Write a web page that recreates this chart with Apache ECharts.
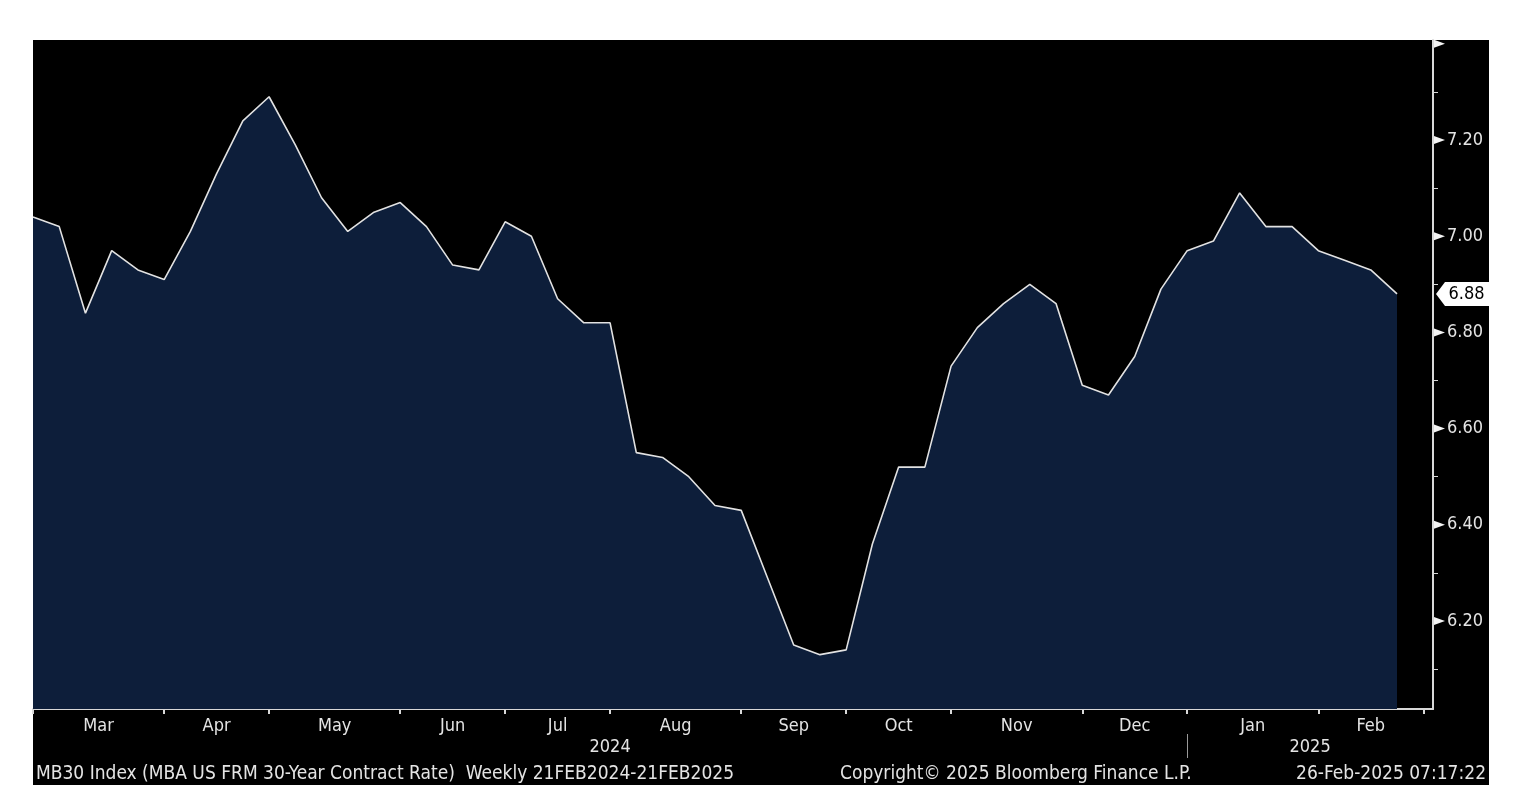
<!DOCTYPE html>
<html>
<head>
<meta charset="utf-8">
<script src="https://cdn.jsdelivr.net/npm/echarts@6/dist/echarts.min.js"></script>
<style>
html,body{margin:0;padding:0;background:#fff;}
#chart{width:1518px;height:812px;}
</style>
</head>
<body>
<div id="chart"></div>
<script>
// ---- data (weekly, Fridays) ----
const dates = [
  '2024-02-23','2024-03-01','2024-03-08','2024-03-15','2024-03-22','2024-03-29',
  '2024-04-05','2024-04-12','2024-04-19','2024-04-26',
  '2024-05-03','2024-05-10','2024-05-17','2024-05-24','2024-05-31',
  '2024-06-07','2024-06-14','2024-06-21','2024-06-28',
  '2024-07-05','2024-07-12','2024-07-19','2024-07-26',
  '2024-08-02','2024-08-09','2024-08-16','2024-08-23','2024-08-30',
  '2024-09-06','2024-09-13','2024-09-20','2024-09-27',
  '2024-10-04','2024-10-11','2024-10-18','2024-10-25',
  '2024-11-01','2024-11-08','2024-11-15','2024-11-22','2024-11-29',
  '2024-12-06','2024-12-13','2024-12-20','2024-12-27',
  '2025-01-03','2025-01-10','2025-01-17','2025-01-24','2025-01-31',
  '2025-02-07','2025-02-14','2025-02-21'
];
const rates = [
  7.04, 7.02, 6.84, 6.97, 6.93, 6.91,
  7.01, 7.13, 7.24, 7.29,
  7.19, 7.08, 7.01, 7.05, 7.07,
  7.02, 6.94, 6.93, 7.03,
  7.00, 6.87, 6.82, 6.82,
  6.55, 6.54, 6.50, 6.44, 6.43,
  6.29, 6.15, 6.13, 6.14,
  6.36, 6.52, 6.52, 6.73,
  6.81, 6.86, 6.90, 6.86, 6.69,
  6.67, 6.75, 6.89, 6.97,
  6.99, 7.09, 7.02, 7.02, 6.97,
  6.95, 6.93, 6.88
];
const monthTickDates = ['2024-02-23','2024-03-29','2024-04-26','2024-05-31','2024-06-28','2024-07-26',
  '2024-08-30','2024-09-27','2024-10-25','2024-11-29','2024-12-27','2025-01-31','2025-02-28'];
const monthLabels = ['Mar','Apr','May','Jun','Jul','Aug','Sep','Oct','Nov','Dec','Jan','Feb'];
const yearLabels = ['2024','2025'];
const yearSplitDate = '2024-12-27';
const yMajorTicks = [6.2, 6.4, 6.6, 6.8, 7.0, 7.2, 7.4];
const yLabelTicks = [6.2, 6.4, 6.6, 6.8, 7.0, 7.2];
const yMinorTicks = [6.1, 6.3, 6.5, 6.7, 6.9, 7.1, 7.3];
const lastValue = rates[rates.length - 1];
const footerLeft = 'MB30 Index (MBA US FRM 30-Year Contract Rate)  Weekly 21FEB2024-21FEB2025';
const footerMid = 'Copyright\u00A9 2025 Bloomberg Finance L.P.';
const footerRight = '26-Feb-2025 07:17:22';

// ---- build ----
const DAY = 86400000;
const T = s => { const p = s.split('-').map(Number); return Date.UTC(p[0], p[1] - 1, p[2]); };
const xMin = T('2024-02-23');
const xMax = T('2025-03-02') + 0.6 * DAY;
const tickTs = monthTickDates.map(T);
const monthLabelTs = [];
const labelMap = {};
for (let i = 0; i < monthLabels.length; i++) {
  const m = Math.round((tickTs[i] + tickTs[i + 1]) / 2);
  monthLabelTs.push(m);
  labelMap[m] = monthLabels[i];
}
const splitTs = T(yearSplitDate);
const yearTs = [Math.round((xMin + splitTs) / 2), Math.round((splitTs + xMax) / 2)];
const yearMap = {};
yearTs.forEach((t, i) => yearMap[t] = yearLabels[i]);

const FONT = "'DejaVu Sans Condensed', 'DejaVu Sans', sans-serif";
const TXT = '#e4e4e4';
const AX = '#d8d8d8';
const yMin = 6.017, yMax = 7.408;

const tickMarks = yMajorTicks.map(v => ({
  coord: [xMax, v],
  symbol: 'path://M0,0 L11,4 L0,8 Z',
  symbolSize: [11, 8],
  symbolKeepAspect: false,
  symbolOffset: [6.5, 0],
  itemStyle: {color: '#f4f4f4'},
  label: {show: false}
}));
const lastMark = {
  coord: [xMax, lastValue],
  value: lastValue,
  symbol: 'path://M0,12 L9,0 L53,0 L53,24 L9,24 Z',
  symbolSize: [53, 24],
  symbolKeepAspect: false,
  symbolOffset: [29.5, 0],
  itemStyle: {color: '#ffffff'},
  label: {
    show: true, position: 'inside', offset: [4, 0], color: '#000000', fontSize: 18, fontFamily: FONT,
    formatter: p => Number(p.value).toFixed(2)
  }
};

const chart = echarts.init(document.getElementById('chart'), null, {renderer: 'canvas'});
chart.setOption({
  animation: false,
  backgroundColor: '#ffffff',
  graphic: [
    {type: 'rect', z: -100, shape: {x: 33, y: 40, width: 1456, height: 745}, style: {fill: '#000000'}},
    {type: 'text', z: 100, left: 36, top: 765, style: {text: footerLeft, fill: TXT, font: '19px ' + FONT}},
    {type: 'text', z: 100, left: 840, top: 765, style: {text: footerMid, fill: TXT, font: '19px ' + FONT}},
    {type: 'text', z: 100, right: 32, top: 765, style: {text: footerRight, fill: TXT, font: '19px ' + FONT}}
  ],
  grid: {left: 33, top: 40, right: 85, bottom: 103, containLabel: false},
  xAxis: [
    {
      type: 'value', min: xMin, max: xMax, position: 'bottom',
      axisLine: {show: true, lineStyle: {color: AX, width: 2}},
      axisTick: {show: true, customValues: tickTs, length: 5, lineStyle: {color: AX, width: 2}},
      axisLabel: {
        customValues: monthLabelTs, margin: 8, color: TXT, fontSize: 18, fontFamily: FONT,
        formatter: v => labelMap[v] || ''
      },
      splitLine: {show: false}
    },
    {
      type: 'value', min: xMin, max: xMax, position: 'bottom', offset: 25,
      axisLine: {show: false},
      axisTick: {show: true, customValues: [splitTs], length: 24, lineStyle: {color: '#9a9a9a', width: 1}},
      axisLabel: {
        customValues: yearTs, margin: 4, color: TXT, fontSize: 18, fontFamily: FONT,
        formatter: v => yearMap[v] || ''
      },
      splitLine: {show: false}
    }
  ],
  yAxis: [
    {
      type: 'value', position: 'right', min: yMin, max: yMax,
      axisLine: {show: true, lineStyle: {color: AX, width: 2}},
      axisTick: {show: false},
      axisLabel: {
        customValues: yLabelTicks, margin: 14, color: TXT, fontSize: 18, fontFamily: FONT,
        formatter: v => Number(v).toFixed(2)
      },
      splitLine: {show: false}
    },
    {
      type: 'value', position: 'right', min: yMin, max: yMax,
      axisLine: {show: false},
      axisTick: {show: true, customValues: yMinorTicks, length: 5, lineStyle: {color: AX, width: 1}},
      axisLabel: {show: false},
      splitLine: {show: false}
    }
  ],
  series: [{
    type: 'line',
    data: dates.map((d, i) => [T(d), rates[i]]),
    showSymbol: false,
    symbol: 'none',
    lineStyle: {color: '#e2e2e2', width: 1.6},
    areaStyle: {color: '#0d1e3a', opacity: 1, origin: 'start'},
    markPoint: {
      silent: true,
      symbolKeepAspect: false,
      data: tickMarks.concat([lastMark])
    }
  }]
});
</script>
</body>
</html>
